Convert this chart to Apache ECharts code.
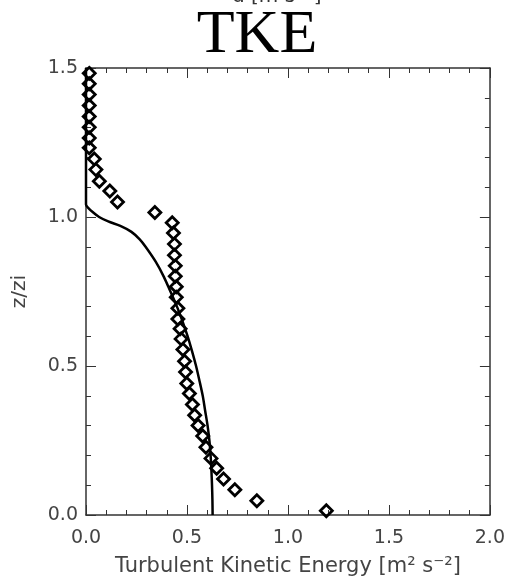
<!DOCTYPE html>
<html><head><meta charset="utf-8">
<script src="https://cdn.jsdelivr.net/npm/echarts@6/dist/echarts.min.js"></script>
<style>html,body{margin:0;padding:0;background:#fff}#c{width:508px;height:582px}</style>
</head><body><div id="c"></div>
<script>
// Observed (diamonds): TKE values and heights z/zi
const obsTke = [1.19,0.846,0.737,0.681,0.647,0.619,0.594,0.578,0.555,0.538,0.527,0.512,0.499,0.493,0.488,0.48,0.471,0.466,0.455,0.455,0.447,0.447,0.442,0.442,0.438,0.438,0.433,0.427,0.341,0.156,0.118,0.066,0.049,0.041,0.016,0.016,0.016,0.016,0.016,0.016,0.016,0.016];
const obsZ   = [0.014,0.048,0.085,0.121,0.157,0.190,0.227,0.265,0.300,0.335,0.371,0.408,0.441,0.480,0.516,0.555,0.591,0.625,0.658,0.694,0.731,0.766,0.801,0.836,0.872,0.909,0.946,0.981,1.015,1.050,1.087,1.120,1.159,1.195,1.232,1.265,1.301,1.337,1.374,1.411,1.447,1.482];
// Model (solid line)
const modTke = [0.627,0.626,0.624,0.621,0.617,0.611,0.602,0.590,0.578,0.562,0.545,0.525,0.503,0.478,0.450,0.418,0.385,0.345,0.295,0.266,0.225,0.170,0.110,0.065,0.036,0.012,0.0,0.0];
const modZ   = [0.0,0.05,0.10,0.15,0.20,0.25,0.30,0.35,0.40,0.45,0.50,0.55,0.60,0.65,0.70,0.75,0.80,0.85,0.90,0.925,0.95,0.97,0.985,1.0,1.015,1.03,1.042,1.5];
const xTicks = ['0.0','0.5','1.0','1.5','2.0'];
const yTicks = ['0.0','0.5','1.0','1.5'];

const chart = echarts.init(document.getElementById('c'));
const axisCol = '#333';
const labelFont = {fontFamily:'DejaVu Sans', fontSize:19, color:'#444'};
function xa(pos, show){
  return {type:'value', position:pos, min:0, max:2, interval:0.5,
    axisLine:{show:true, onZero:false, lineStyle:{color:axisCol, width:1.5}},
    axisTick:{show:true, inside:true, length:10, lineStyle:{color:axisCol, width:1}},
    minorTick:{show:true, splitNumber:5, length:5, lineStyle:{color:axisCol, width:1}},
    splitLine:{show:false}, minorSplitLine:{show:false},
    axisLabel:Object.assign({show:show, margin:14, formatter:(v)=>xTicks[Math.round(v/0.5)]}, labelFont),
    name: show ? 'Turbulent Kinetic Energy [m\u00B2 s\u207B\u00B2]' : '',
    nameLocation:'middle', nameGap:41,
    nameTextStyle:{fontFamily:'DejaVu Sans', fontSize:21, color:'#444'}
  };
}
function ya(pos, show){
  return {type:'value', position:pos, min:0, max:1.5, interval:0.5,
    axisLine:{show:true, onZero:false, lineStyle:{color:axisCol, width:1.5}},
    axisTick:{show:true, inside:true, length:10, lineStyle:{color:axisCol, width:1}},
    minorTick:{show:true, splitNumber:5, length:5, lineStyle:{color:axisCol, width:1}},
    splitLine:{show:false}, minorSplitLine:{show:false},
    axisLabel:Object.assign({show:show, margin:8, formatter:(v)=>yTicks[Math.round(v/0.5)]}, labelFont),
    name: show ? 'z/zi' : '', nameLocation:'middle', nameGap:56, nameRotate:90,
    nameTextStyle:{fontFamily:'DejaVu Sans', fontSize:20, color:'#444'}
  };
}
chart.setOption({
  animation:false,
  backgroundColor:'#fff',
  title:{text:'TKE', left:252, textAlign:'center', top:0,
    textStyle:{fontFamily:'Liberation Serif', fontSize:62, fontWeight:'normal', color:'#000'}},
  graphic:[{type:'text', left:232, top:-13, style:{text:'u [m s\u207B\u00B9]', font:'20px DejaVu Sans', fill:'#333'}}],
  grid:{left:86, right:16, top:68, bottom:65, containLabel:false},
  xAxis:[xa('bottom', true), xa('top', false)],
  yAxis:[ya('left', true), ya('right', false)],
  series:[
    {type:'line', xAxisIndex:0, yAxisIndex:0, data:modTke.map((v,i)=>[v, modZ[i]]),
      showSymbol:false, smooth:0.3, lineStyle:{color:'#000', width:2.5}, z:2},
    {type:'scatter', xAxisIndex:0, yAxisIndex:0, data:obsTke.map((v,i)=>[v, obsZ[i]]),
      symbol:'diamond', symbolSize:12, itemStyle:{color:'rgba(255,255,255,0)', borderColor:'#000', borderWidth:2.8, opacity:1}, z:3}
  ]
});
</script></body></html>
